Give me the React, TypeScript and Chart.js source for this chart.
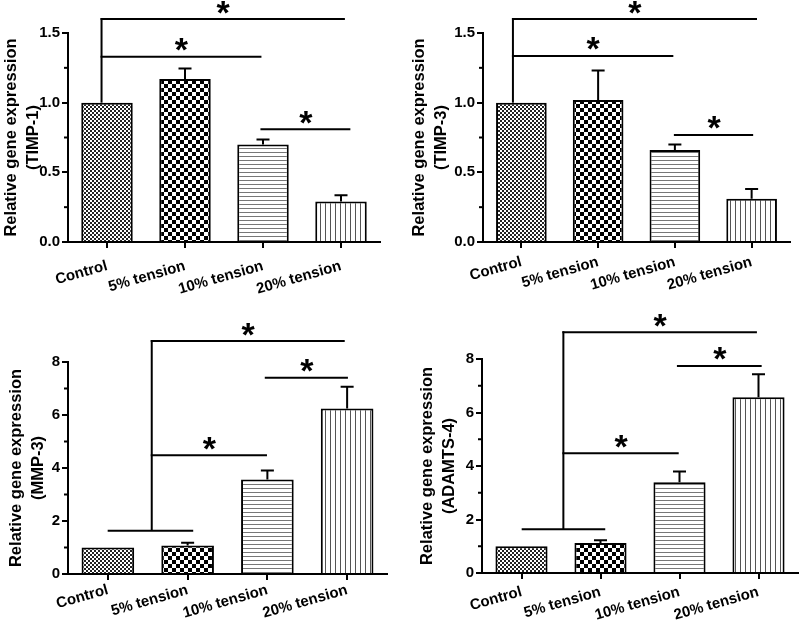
import React, { useEffect, useRef } from 'react';
import { Chart, registerables } from 'chart.js';

Chart.register(...registerables);

const FONT = '"Liberation Sans", Arial, Helvetica, sans-serif';

const categories = ['Control', '5% tension', '10% tension', '20% tension'];

// TIMP-1
const timp1Mean = [1.0, 1.17, 0.70, 0.29];
const timp1Err = [0, 0.075, 0.035, 0.045];
// TIMP-3
const timp3Mean = [1.0, 1.02, 0.66, 0.31];
const timp3Err = [0, 0.21, 0.04, 0.07];
// MMP-3
const mmp3Mean = [1.0, 1.08, 3.57, 6.25];
const mmp3Err = [0, 0.10, 0.34, 0.82];
// ADAMTS-4
const adamts4Mean = [1.0, 1.12, 3.39, 6.57];
const adamts4Err = [0, 0.10, 0.40, 0.86];

// significance lines: [fromIndex, toIndex, level, hasStar]
const timp1Sig: [number, number, number, boolean][] = [
  [-0.07, 3.05, 1.6, true],
  [-0.07, 1.98, 1.33, true],
  [1.98, 3.12, 0.81, true],
];
const timp1Stem: [number, number, number] = [-0.07, 1.0, 1.6];

const timp3Sig: [number, number, number, boolean][] = [
  [-0.11, 3.07, 1.6, true],
  [-0.11, 1.98, 1.335, true],
  [2.0, 3.02, 0.768, true],
];
const timp3Stem: [number, number, number] = [-0.11, 1.0, 1.6];

const mmp3Sig: [number, number, number, boolean][] = [
  [0.01, 1.07, 1.63, false],
  [0.55, 2.97, 8.79, true],
  [0.55, 1.995, 4.48, true],
  [1.98, 3.01, 7.41, true],
];
const mmp3Stem: [number, number, number] = [0.55, 1.63, 8.79];

const adamts4Sig: [number, number, number, boolean][] = [
  [0.015, 1.06, 1.64, false],
  [0.53, 2.98, 9.0, true],
  [0.53, 1.99, 4.48, true],
  [1.98, 3.04, 7.74, true],
];
const adamts4Stem: [number, number, number] = [0.53, 1.64, 9.0];

const timpAxis = { max: 1.5, step: 0.5, digits: 1 };
const mmpAxis = { max: 8, step: 2, digits: 0 };

type PanelDef = {
  gene: string;
  mean: number[];
  err: number[];
  sig: [number, number, number, boolean][];
  stem: [number, number, number];
  axis: { max: number; step: number; digits: number };
  left: number; top: number; w: number; h: number;
  pad: { left: number; right: number; top: number; bottom: number };
  yWidth: number; xHeight: number; labelPad: number;
};

const panels: PanelDef[] = [
  {
    gene: '(TIMP-1)', mean: timp1Mean, err: timp1Err, sig: timp1Sig, stem: timp1Stem, axis: timpAxis,
    left: 0, top: 0, w: 400, h: 316,
    pad: { left: 0, right: 20, top: 33, bottom: 0 }, yWidth: 68, xHeight: 74, labelPad: 9,
  },
  {
    gene: '(TIMP-3)', mean: timp3Mean, err: timp3Err, sig: timp3Sig, stem: timp3Stem, axis: timpAxis,
    left: 400, top: 0, w: 400, h: 316,
    pad: { left: 8, right: 10, top: 33, bottom: 0 }, yWidth: 75, xHeight: 74, labelPad: 5,
  },
  {
    gene: '(MMP-3)', mean: mmp3Mean, err: mmp3Err, sig: mmp3Sig, stem: mmp3Stem, axis: mmpAxis,
    left: 0, top: 300, w: 400, h: 332,
    pad: { left: 5, right: 13, top: 62, bottom: 0 }, yWidth: 63, xHeight: 58, labelPad: 1,
  },
  {
    gene: '(ADAMTS-4)', mean: adamts4Mean, err: adamts4Err, sig: adamts4Sig, stem: adamts4Stem, axis: mmpAxis,
    left: 400, top: 300, w: 400, h: 332,
    pad: { left: 16, right: 2, top: 59, bottom: 0 }, yWidth: 66, xHeight: 59, labelPad: 4,
  },
];

function makePatterns(ctx: CanvasRenderingContext2D) {
  const mk = (w: number, h: number, draw: (c: CanvasRenderingContext2D) => void) => {
    const cv = document.createElement('canvas');
    cv.width = w; cv.height = h;
    const c = cv.getContext('2d')!;
    c.fillStyle = '#fff';
    c.fillRect(0, 0, w, h);
    draw(c);
    return ctx.createPattern(cv, 'repeat')!;
  };
  const fine = mk(4, 4, (c) => {
    c.fillStyle = '#222';
    c.fillRect(0, 0, 2, 2);
    c.fillRect(2, 2, 2, 2);
  });
  const coarse = mk(8, 8, (c) => {
    c.fillStyle = '#000';
    c.fillRect(0, 0, 4, 4);
    c.fillRect(4, 4, 4, 4);
  });
  const hLines = mk(4, 4, (c) => {
    c.fillStyle = '#777';
    c.fillRect(0, 0, 4, 1);
  });
  const vLines = mk(5, 5, (c) => {
    c.fillStyle = '#555';
    c.fillRect(0, 0, 1, 5);
  });
  return [fine, coarse, hLines, vLines];
}

function annotPlugin(p: PanelDef) {
  return {
    id: 'annot',
    afterDraw(chart: any) {
      const { ctx, chartArea } = chart;
      const x = chart.scales.x;
      const y = chart.scales.y;
      const meta = chart.getDatasetMeta(0);
      ctx.save();
      ctx.strokeStyle = '#000';
      ctx.fillStyle = '#000';
      ctx.lineWidth = 2;
      ctx.lineCap = 'butt';
      // error bars (upper only)
      p.err.forEach((e, i) => {
        if (!e) return;
        const bar = meta.data[i];
        const top = y.getPixelForValue(p.mean[i] + e);
        ctx.beginPath();
        ctx.moveTo(bar.x, bar.y);
        ctx.lineTo(bar.x, top);
        ctx.moveTo(bar.x - 6.5, top);
        ctx.lineTo(bar.x + 6.5, top);
        ctx.stroke();
      });
      // minor y ticks
      const ticks = y.ticks;
      for (let i = 0; i < ticks.length - 1; i++) {
        const mid = (ticks[i].value + ticks[i + 1].value) / 2;
        const py = y.getPixelForValue(mid);
        ctx.beginPath();
        ctx.moveTo(chartArea.left - 4, py);
        ctx.lineTo(chartArea.left, py);
        ctx.stroke();
      }
      // stem
      const [sx, sy1, sy2] = p.stem;
      const spx = x.getPixelForValue(sx);
      ctx.beginPath();
      ctx.moveTo(spx, y.getPixelForValue(sy1));
      ctx.lineTo(spx, y.getPixelForValue(sy2) - 1);
      ctx.stroke();
      // significance lines and stars
      ctx.font = 'bold 34px ' + FONT;
      ctx.textAlign = 'center';
      ctx.textBaseline = 'alphabetic';
      const m = ctx.measureText('*');
      const asc = m.actualBoundingBoxAscent;
      const desc = m.actualBoundingBoxDescent;
      p.sig.forEach(([a, b, lv, star]) => {
        const x1 = x.getPixelForValue(a);
        const x2 = x.getPixelForValue(b);
        const py = y.getPixelForValue(lv);
        ctx.beginPath();
        ctx.moveTo(x1 - 1, py);
        ctx.lineTo(x2, py);
        ctx.stroke();
        if (star) {
          const cy = py - 12;
          const base = cy - (desc - asc) / 2;
          ctx.fillText('*', (x1 + x2) / 2, base);
        }
      });
      ctx.restore();
    },
  };
}

function Panel({ p }: { p: PanelDef }) {
  const ref = useRef<HTMLCanvasElement | null>(null);
  useEffect(() => {
    const canvas = ref.current!;
    const ctx = canvas.getContext('2d')!;
    const pats = makePatterns(ctx);
    const chart = new Chart(canvas, {
      type: 'bar',
      data: {
        labels: categories,
        datasets: [
          {
            data: p.mean,
            backgroundColor: pats as any,
            borderColor: '#000',
            borderWidth: 2,
            categoryPercentage: 1,
            barPercentage: 0.66,
          },
        ],
      },
      options: {
        animation: false,
        responsive: false,
        devicePixelRatio: 1,
        layout: { padding: p.pad },
        plugins: { legend: { display: false }, tooltip: { enabled: false }, title: { display: false } },
        scales: {
          x: {
            offset: true,
            grid: { display: true, drawOnChartArea: false, offset: false, drawTicks: true, tickLength: 6, color: '#000', lineWidth: 2 },
            border: { display: true, color: '#000', width: 2 },
            ticks: {
              color: '#000',
              font: { family: FONT, size: 15, weight: 'bold' },
              minRotation: 16,
              maxRotation: 16,
              padding: p.labelPad,
              autoSkip: false,
            },
            afterFit: (s: any) => { s.height = p.xHeight; },
          },
          y: {
            min: 0,
            max: p.axis.max,
            grid: { display: true, drawOnChartArea: false, drawTicks: true, tickLength: 6, color: '#000', lineWidth: 2 },
            border: { display: true, color: '#000', width: 2 },
            ticks: {
              stepSize: p.axis.step,
              color: '#000',
              padding: 2,
              font: { family: FONT, size: 15, weight: 'bold' },
              callback: (v: any) => Number(v).toFixed(p.axis.digits),
            },
            title: {
              display: true,
              text: ['Relative gene expression', p.gene],
              color: '#000',
              font: { family: FONT, size: 16.5, weight: 'bold', lineHeight: 1.35 },
              padding: 0,
            },
            afterFit: (s: any) => { s.width = p.yWidth; },
          },
        },
      } as any,
      plugins: [annotPlugin(p)],
    });
    return () => chart.destroy();
  }, []);
  return (
    <canvas
      ref={ref}
      width={p.w}
      height={p.h}
      style={{ position: 'absolute', left: p.left, top: p.top, width: p.w, height: p.h, display: 'block' }}
    />
  );
}

export default function App() {
  return (
    <div style={{ position: 'absolute', left: 0, top: 0, width: 800, height: 632, background: '#fff', overflow: 'hidden' }}>
      {panels.map((p, i) => (
        <Panel key={i} p={p} />
      ))}
    </div>
  );
}
